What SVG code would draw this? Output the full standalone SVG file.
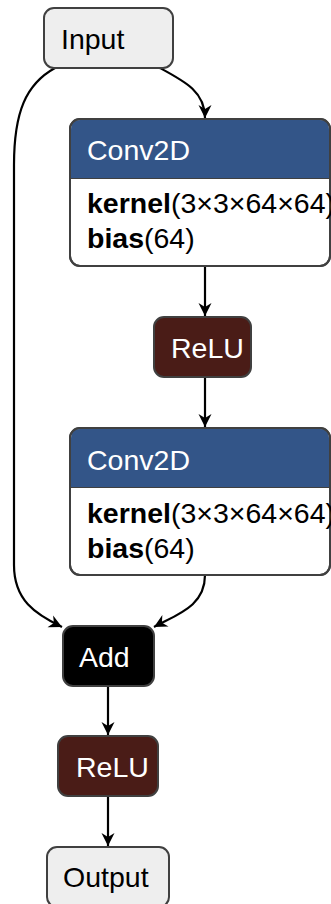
<svg xmlns="http://www.w3.org/2000/svg" width="331" height="904" viewBox="0 0 331 904">
  <defs>
    <marker id="arrow" markerUnits="userSpaceOnUse" markerWidth="16" markerHeight="16" viewBox="-14 -8 16 16" refX="0" refY="0" orient="auto">
      <path d="M0,0 L-13,-6.5 L-9,0 L-13,6.5 Z" fill="#000"/>
    </marker>
  </defs>
  <style>
    text { font-family: "Liberation Sans", Arial, Helvetica, sans-serif; font-size: 28.5px; }
    .box { stroke: #404040; stroke-width: 2; }
    .io { fill: #eeeeee; }
    .relu { fill: #4a1c17; }
    .add { fill: #000000; }
    .head { fill: #335588; }
    .body { fill: #ffffff; }
    .dark { fill: #000000; }
    .light { fill: #ffffff; }
    .b { font-weight: bold; }
    .edge { fill: none; stroke: #000; stroke-width: 2.2; marker-end: url(#arrow); }
  </style>

  <!-- connectors -->
  <g id="edges">
    <path class="edge" d="M160,68 C186,82 205,92 205,118"/>
    <path class="edge" d="M55,68 C26,84 14,112 14,165 L14,565 C14,600 35,614 62,627"/>
    <path class="edge" d="M205,266 L205,316"/>
    <path class="edge" d="M205,377 L205,427"/>
    <path class="edge" d="M205,575 C205,606 178,614 154,627"/>
    <path class="edge" d="M108,686 L108,735"/>
    <path class="edge" d="M108,796 L108,846"/>
  </g>

  <g id="input">
    <rect class="box io" x="44" y="8" width="129" height="60" rx="10"/>
    <text class="dark" x="61" y="49">Input</text>
  </g>

  <g id="conv1">
    <rect class="box body" x="70" y="119" width="260" height="147" rx="10"/>
    <path class="head" d="M71,178 L71,129 Q71,120 80,120 L320,120 Q329,120 329,129 L329,178 Z"/>
    <line x1="70" y1="178.5" x2="330" y2="178.5" stroke="#404040" stroke-width="1"/>
    <rect x="70" y="119" width="260" height="147" rx="10" fill="none" class="box"/>
    <text class="light" x="87" y="160">Conv2D</text>
    <text class="dark" x="87" y="213"><tspan class="b">kernel</tspan>(3×3×64×64)</text>
    <text class="dark" x="87" y="248"><tspan class="b">bias</tspan>(64)</text>
  </g>

  <g id="relu1">
    <rect class="box relu" x="154" y="317" width="97" height="60" rx="10"/>
    <text class="light" x="171" y="358">ReLU</text>
  </g>

  <g id="conv2">
    <rect class="box body" x="70" y="428" width="260" height="147" rx="10"/>
    <path class="head" d="M71,487 L71,438 Q71,429 80,429 L320,429 Q329,429 329,438 L329,487 Z"/>
    <line x1="70" y1="487.5" x2="330" y2="487.5" stroke="#404040" stroke-width="1"/>
    <rect x="70" y="428" width="260" height="147" rx="10" fill="none" class="box"/>
    <text class="light" x="87" y="470">Conv2D</text>
    <text class="dark" x="87" y="523"><tspan class="b">kernel</tspan>(3×3×64×64)</text>
    <text class="dark" x="87" y="558"><tspan class="b">bias</tspan>(64)</text>
  </g>

  <g id="add">
    <rect class="box add" x="63" y="626" width="91" height="60" rx="10"/>
    <text class="light" x="79" y="667">Add</text>
  </g>

  <g id="relu2">
    <rect class="box relu" x="58" y="736" width="100" height="60" rx="10"/>
    <text class="light" x="76" y="777">ReLU</text>
  </g>

  <g id="output">
    <rect class="box io" x="47" y="847" width="122" height="60" rx="10"/>
    <text class="dark" x="63" y="887">Output</text>
  </g>
</svg>
